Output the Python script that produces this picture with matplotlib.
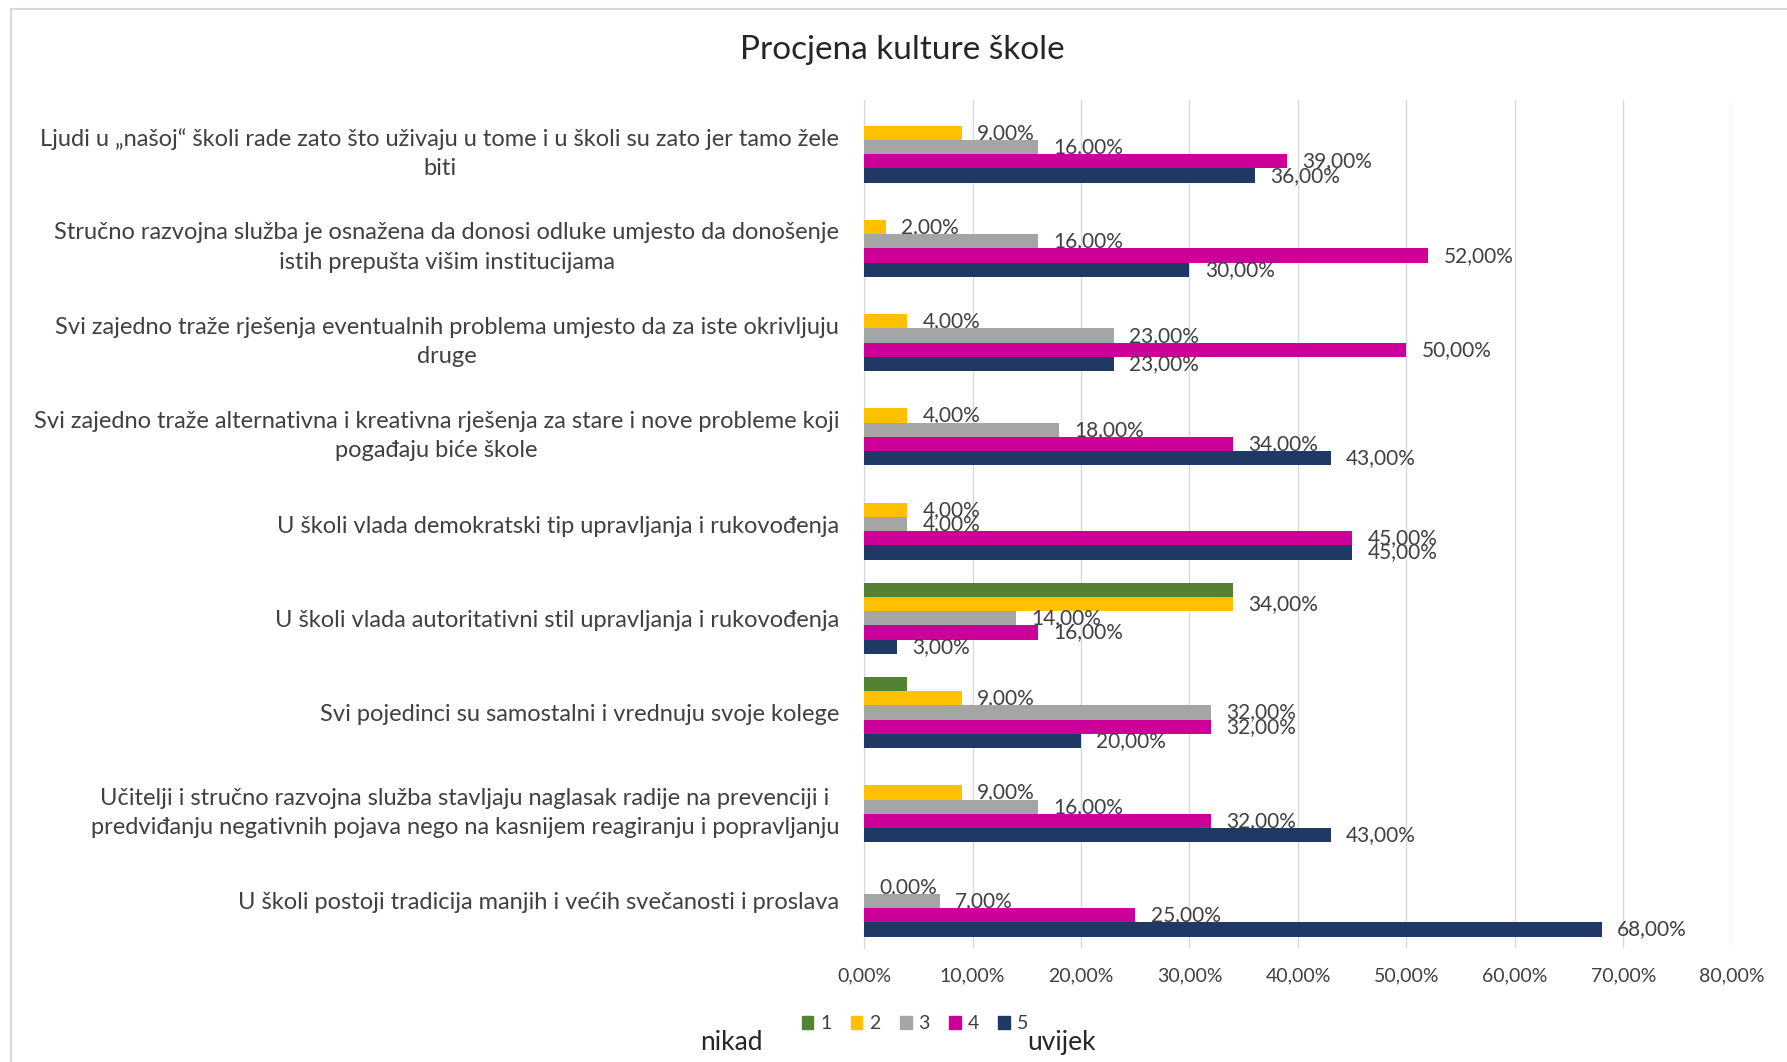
import matplotlib.pyplot as plt
import matplotlib.patches as mpatches
import numpy as np

plt.rcParams['font.family'] = ['Lato', 'DejaVu Sans']

categories = [
    "Ljudi u „našoj“ školi rade zato što uživaju u tome i u školi su zato jer tamo žele\nbiti",
    "Stručno razvojna služba je osnažena da donosi odluke umjesto da donošenje\nistih prepušta višim institucijama",
    "Svi zajedno traže rješenja eventualnih problema umjesto da za iste okrivljuju\ndruge",
    "Svi zajedno traže alternativna i kreativna rješenja za stare i nove probleme koji\npogađaju biće škole",
    "U školi vlada demokratski tip upravljanja i rukovođenja",
    "U školi vlada autoritativni stil upravljanja i rukovođenja",
    "Svi pojedinci su samostalni i vrednuju svoje kolege",
    "Učitelji i stručno razvojna služba stavljaju naglasak radije na prevenciji i\npredviđanju negativnih pojava nego na kasnijem reagiranju i popravljanju",
    "U školi postoji tradicija manjih i većih svečanosti i proslava",
]
series_names = ["1", "2", "3", "4", "5"]
s1 = [np.nan, np.nan, np.nan, np.nan, np.nan, 34, 4, np.nan, np.nan]
s2 = [9, 2, 4, 4, 4, 34, 9, 9, 0]
s3 = [16, 16, 23, 18, 4, 14, 32, 16, 7]
s4 = [39, 52, 50, 34, 45, 16, 32, 32, 25]
s5 = [36, 30, 23, 43, 45, 3, 20, 43, 68]
colors = ["#548235", "#FFC000", "#A5A5A5", "#CC0099", "#203864"]
show_labels = [False, True, True, True, True]

fig = plt.figure(figsize=(17.87, 10.62), dpi=100)
ax = fig.add_axes([0.4835, 0.1073, 0.4857, 0.7985])

y = np.arange(len(categories))
h = 0.151
for i, (vals, c) in enumerate(zip([s1, s2, s3, s4, s5], colors)):
    vals = np.array(vals, dtype=float)
    pos = y + (i - 2) * h
    bars = ax.barh(pos, np.nan_to_num(vals), height=h, color=c,
                   label=series_names[i], zorder=3)
    if show_labels[i]:
        labels = ["" if np.isnan(v) else f"{v:.2f}".replace(".", ",") + "%"
                  for v in vals]
        ax.bar_label(bars, labels=labels, padding=11, fontsize=15,
                     color="#404040")

ax.set_ylim(len(categories) - 0.5, -0.5)
ax.set_xlim(0, 80)
ax.set_xticks(np.arange(0, 81, 10))
ax.set_xticklabels([f"{t:.2f}".replace(".", ",") + "%" for t in range(0, 81, 10)])
ax.set_yticks(y)
ax.set_yticklabels(categories, multialignment="center", linespacing=1.5)
ax.tick_params(axis="y", length=0, pad=18, labelsize=17, labelcolor="#404040")
ax.tick_params(axis="x", length=0, pad=14, labelsize=14, labelcolor="#404040")
ax.grid(axis="x", color="#d9d9d9", linewidth=1, zorder=0)
for s in ["top", "right", "bottom"]:
    ax.spines[s].set_visible(False)
ax.spines["left"].set_color("#d9d9d9")

fig.text(0.505, 0.953, "Procjena kulture škole", ha="center", va="center",
         fontsize=24, color="#262626")

handles = [mpatches.Patch(color=c) for c in colors]
fig.legend(handles, series_names, loc="center", bbox_to_anchor=(0.512, 0.036),
           ncol=5, frameon=False, fontsize=14, handlelength=0.6,
           handleheight=0.6, handletextpad=0.35, columnspacing=1.0,
           labelcolor="#404040", borderpad=0.1)
fig.text(0.392, 0.018, "nikad", fontsize=19, color="#262626", va="center")
fig.text(0.575, 0.018, "uvijek", fontsize=19, color="#262626", va="center")

fig.patches.append(mpatches.Rectangle((0.006, -0.01), 1.1, 1.0015,
                                      transform=fig.transFigure, fill=False,
                                      edgecolor="#d9d9d9", linewidth=1.5))

fig.savefig("out.png", dpi=100)
